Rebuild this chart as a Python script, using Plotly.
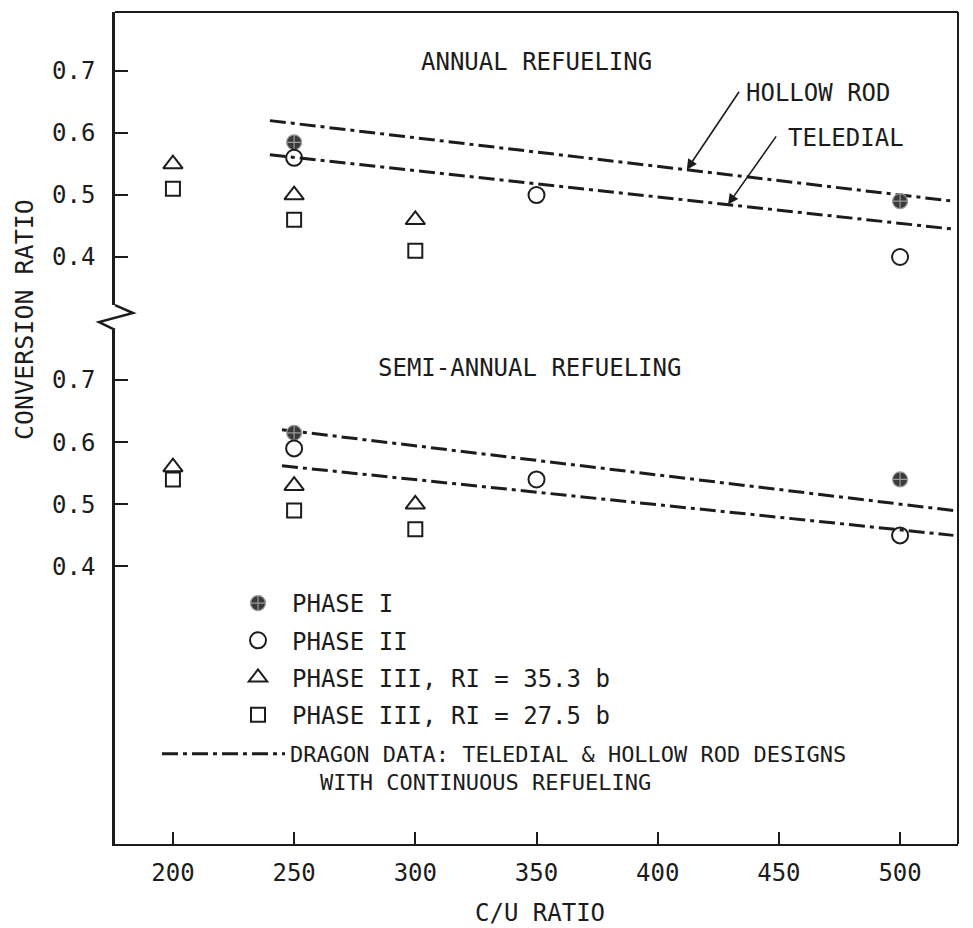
import numpy as np
import plotly.graph_objects as go

# C/U ratios at which each calculation phase was evaluated
cu_phase1 = [250, 500]
cu_phase2 = [250, 350, 500]
cu_phase3 = [200, 250, 300]

# Annual refueling: conversion ratio
annual_phase1 = [0.585, 0.49]
annual_phase2 = [0.56, 0.50, 0.40]
annual_phase3_353 = [0.55, 0.50, 0.46]
annual_phase3_275 = [0.51, 0.46, 0.41]

# Semi-annual refueling: conversion ratio
semi_phase1 = [0.615, 0.54]
semi_phase2 = [0.59, 0.54, 0.45]
semi_phase3_353 = [0.56, 0.53, 0.50]
semi_phase3_275 = [0.54, 0.49, 0.46]

# DRAGON continuous-refueling reference lines
dragon_cu_annual = [240, 522]
dragon_hollow_annual = [0.62, 0.49]
dragon_teledial_annual = [0.565, 0.445]
dragon_cu_semi = [245, 522]
dragon_hollow_semi = [0.62, 0.49]
dragon_teledial_semi = [0.562, 0.45]

x_ticks = [200, 250, 300, 350, 400, 450, 500]
y_ticks = [0.4, 0.5, 0.6, 0.7]
y_tick_text = ["0.4", "0.5", "0.6", "0.7"]

phase_names = [
    "PHASE I",
    "PHASE II",
    "PHASE III, RI = 35.3 b",
    "PHASE III, RI = 27.5 b",
]
dragon_name = "DRAGON DATA: TELEDIAL & HOLLOW ROD DESIGNS"
dragon_name_cont = "WITH CONTINUOUS REFUELING"

FONT = "DejaVu Sans Mono, Liberation Mono, monospace"
INK = "#1c1c1c"

# figure geometry (pixels)
W, H = 973, 928
ML, MR, MT, MB = 115, 15, 12, 84
PW, PH = W - ML - MR, H - MT - MB


def paper_x(px):
    return (px - ML) / PW


def paper_y(py):
    return (H - MB - py) / PH


marker_styles = [
    dict(symbol="circle-cross", size=15, color="#3a3a3a",
         line=dict(color="#9a9a9a", width=1.2)),
    dict(symbol="circle-open", size=16, color=INK, line=dict(width=2)),
    dict(symbol="triangle-up-open", size=17, color=INK, line=dict(width=2)),
    dict(symbol="square-open", size=14, color=INK, line=dict(width=2)),
]

annual_sets = [(cu_phase1, annual_phase1), (cu_phase2, annual_phase2),
               (cu_phase3, annual_phase3_353), (cu_phase3, annual_phase3_275)]
semi_sets = [(cu_phase1, semi_phase1), (cu_phase2, semi_phase2),
             (cu_phase3, semi_phase3_353), (cu_phase3, semi_phase3_275)]

dragon_line = dict(color=INK, width=3, dash="16px,5px,4px,5px")

fig = go.Figure()

# DRAGON lines: upper panel (annual) on y2, lower panel (semi-annual) on y
for xs, ys, ax, show in [
    (dragon_cu_annual, dragon_hollow_annual, "y2", True),
    (dragon_cu_annual, dragon_teledial_annual, "y2", False),
    (dragon_cu_semi, dragon_hollow_semi, "y", False),
    (dragon_cu_semi, dragon_teledial_semi, "y", False),
]:
    fig.add_trace(go.Scatter(
        x=xs, y=ys, mode="lines", line=dragon_line, yaxis=ax,
        name=dragon_name, legendgroup="dragon", showlegend=show,
        legend="legend2", hoverinfo="skip"))

# phase results
for i, name in enumerate(phase_names):
    for (xs, ys), ax, show in [(annual_sets[i], "y2", True),
                               (semi_sets[i], "y", False)]:
        fig.add_trace(go.Scatter(
            x=xs, y=ys, mode="markers", marker=marker_styles[i], yaxis=ax,
            name=name, legendgroup=name, showlegend=show, legend="legend"))

axis_common = dict(
    showgrid=False, zeroline=False, showline=True, linecolor=INK,
    ticks="inside", tickcolor=INK,
    tickfont=dict(family=FONT, size=24, color=INK),
)

upper_bottom_px, lower_top_px = 305, 330
fig.update_layout(
    width=W, height=H,
    margin=dict(l=ML, r=MR, t=MT, b=MB),
    paper_bgcolor="white", plot_bgcolor="white",
    font=dict(family=FONT, size=24, color=INK),
    xaxis=dict(range=[176.1, 523.9], tickvals=x_ticks, ticklen=12,
               tickwidth=2, linewidth=2, anchor="y", ticklabelstandoff=6,
               **axis_common),
    yaxis=dict(domain=[0, paper_y(lower_top_px)], range=[-0.0468, 0.7806],
               tickvals=y_ticks, ticktext=y_tick_text, ticklen=13,
               tickwidth=2, linewidth=2.5, anchor="x", ticklabelstandoff=12,
               **axis_common),
    yaxis2=dict(domain=[paper_y(upper_bottom_px), 1], range=[0.3226, 0.7952],
                tickvals=y_ticks, ticktext=y_tick_text, ticklen=13,
                tickwidth=2, linewidth=2.5, anchor="x", ticklabelstandoff=12,
                **axis_common),
    legend=dict(x=paper_x(224), y=paper_y(581), xanchor="left",
                yanchor="top", bgcolor="rgba(0,0,0,0)", itemwidth=58,
                tracegroupgap=3, font=dict(family=FONT, size=24, color=INK),
                itemclick=False, itemdoubleclick=False),
    legend2=dict(x=paper_x(157), y=paper_y(733), xanchor="left",
                 yanchor="top", bgcolor="rgba(0,0,0,0)", itemwidth=123,
                 valign="top", font=dict(family=FONT, size=22, color=INK),
                 itemclick=False, itemdoubleclick=False),
    showlegend=True,
)

# frame: top and right borders, plus the axis break on the left
zig = [(ML, upper_bottom_px), (133, 313), (99, 322), (ML, lower_top_px)]
zig_path = "M " + " L ".join(f"{paper_x(a):.4f},{paper_y(b):.4f}" for a, b in zig)
fig.update_layout(shapes=[
    dict(type="line", xref="paper", yref="paper", x0=0, x1=1, y0=1, y1=1,
         line=dict(color=INK, width=2)),
    dict(type="line", xref="paper", yref="paper", x0=1, x1=1, y0=0, y1=1,
         line=dict(color=INK, width=2)),
    dict(type="path", xref="paper", yref="paper", path=zig_path,
         line=dict(color=INK, width=2.5)),
])

# arrows pointing at the DRAGON lines (tips placed on the lines themselves)
hollow_tip_x, teledial_tip_x = 412, 429
hollow_tip_y = float(np.interp(hollow_tip_x, dragon_cu_annual, dragon_hollow_annual))
teledial_tip_y = float(np.interp(teledial_tip_x, dragon_cu_annual, dragon_teledial_annual))

annotations = [
    dict(text="ANNUAL REFUELING", x=350, y=0.715, xref="x", yref="y2",
         showarrow=False, font=dict(size=24)),
    dict(text="SEMI-ANNUAL REFUELING", x=347, y=0.719, xref="x", yref="y",
         showarrow=False, font=dict(size=24)),
    dict(text="HOLLOW ROD", x=435.5, y=0.665, xref="x", yref="y2",
         xanchor="left", showarrow=False, font=dict(size=24)),
    dict(text="TELEDIAL", x=453, y=0.592, xref="x", yref="y2",
         xanchor="left", showarrow=False, font=dict(size=24)),
    dict(text="", x=hollow_tip_x, y=hollow_tip_y, xref="x", yref="y2",
         ax=434, ay=0.669, axref="x", ayref="y2", showarrow=True,
         arrowhead=2, arrowsize=1.3, arrowwidth=1.6, arrowcolor=INK),
    dict(text="", x=teledial_tip_x, y=teledial_tip_y, xref="x", yref="y2",
         ax=449.3, ay=0.597, axref="x", ayref="y2", showarrow=True,
         arrowhead=2, arrowsize=1.3, arrowwidth=1.6, arrowcolor=INK),
    # continuation line of the DRAGON legend entry
    dict(text=dragon_name_cont, x=paper_x(318), y=paper_y(782),
         xref="paper", yref="paper", xanchor="left", yanchor="middle",
         showarrow=False, font=dict(size=22)),
    dict(text="C/U RATIO", x=paper_x(540), y=paper_y(913), xref="paper",
         yref="paper", xanchor="center", yanchor="middle", showarrow=False,
         font=dict(size=24)),
    dict(text="CONVERSION RATIO", x=paper_x(24), y=paper_y(320),
         xref="paper", yref="paper", xanchor="center", yanchor="middle",
         textangle=-90, showarrow=False, font=dict(size=25)),
]
fig.update_layout(annotations=annotations)

fig.write_html("out.html")
